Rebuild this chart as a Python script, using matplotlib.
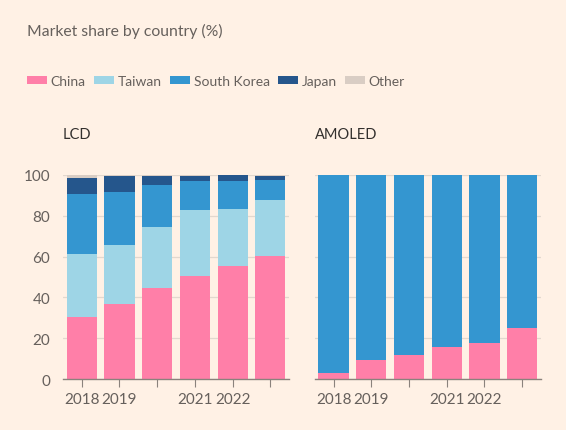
import numpy as np
import matplotlib.pyplot as plt
from matplotlib.patches import Patch

years = [2018, 2019, 2020, 2021, 2022, 2023]
year_labels = ['2018', '2019', '', '2021', '2022', '']
countries = ['China', 'Taiwan', 'South Korea', 'Japan', 'Other']

# LCD share (%)
lcd_china = [30.3, 37.0, 44.7, 50.6, 55.5, 60.4]
lcd_taiwan = [30.9, 28.6, 29.7, 32.1, 27.7, 27.4]
lcd_korea = [29.5, 26.1, 20.7, 14.5, 13.7, 9.6]
lcd_japan = [8.0, 7.5, 4.4, 2.3, 2.9, 2.1]
lcd_other = [1.3, 0.8, 0.5, 0.5, 0.2, 0.5]

# AMOLED share (%)
amo_china = [2.8, 9.6, 11.9, 15.8, 17.7, 25.2]
amo_taiwan = [0.4, 0.0, 0.0, 0.0, 0.0, 0.0]
amo_korea = [96.8, 90.4, 88.1, 84.2, 82.0, 74.8]
amo_japan = [0.0, 0.0, 0.0, 0.0, 0.3, 0.0]
amo_other = [0.0, 0.0, 0.0, 0.0, 0.0, 0.0]

colors = ['#ff7fa8', '#9ed5e6', '#3496d0', '#25568c', '#d9cdc4']
bg = '#fff1e5'
text_col = '#66605c'
grid_col = '#e2d8ce'

plt.rcParams['font.family'] = ['Lato', 'DejaVu Sans']

fig = plt.figure(figsize=(5.66, 4.31), dpi=100, facecolor=bg)

panels = [
    ('LCD', [lcd_china, lcd_taiwan, lcd_korea, lcd_japan, lcd_other], 0.111),
    ('AMOLED', [amo_china, amo_taiwan, amo_korea, amo_japan, amo_other], 0.556),
]

x = np.arange(len(years))
for title, series, left in panels:
    ax = fig.add_axes([left, 0.118, 0.4, 0.474], facecolor=bg)
    bottom = np.zeros(len(years))
    for vals, col in zip(series, colors):
        ax.bar(x, vals, width=0.8, bottom=bottom, color=col, edgecolor='none', zorder=3)
        bottom += np.array(vals)
    ax.set_xlim(-0.5, 5.5)
    ax.set_ylim(0, 100)
    ax.set_yticks(range(0, 101, 20))
    ax.grid(axis='y', color=grid_col, lw=0.9, zorder=0)
    ax.set_xticks(x)
    ax.set_xticklabels(year_labels)
    for s in ['top', 'right', 'left']:
        ax.spines[s].set_visible(False)
    ax.spines['bottom'].set_color('#8a827c')
    ax.spines['bottom'].set_linewidth(1.0)
    ax.spines['bottom'].set_zorder(4)
    ax.tick_params(axis='x', length=6, color='#8a827c', labelsize=11, labelcolor=text_col, pad=3)
    ax.tick_params(axis='y', length=0, labelsize=11, labelcolor=text_col, pad=9)
    if title == 'AMOLED':
        ax.set_yticklabels([])
    ax.text(0.0, 1.2, title, transform=ax.transAxes,
            fontsize=10.5, color='#33302e', ha='left', va='center')

fig.text(0.048, 0.928, 'Market share by country (%)', fontsize=11.3, color=text_col,
         ha='left', va='center')

handles = [Patch(facecolor=c, edgecolor='none') for c in colors]
fig.legend(handles, countries, loc='center left', bbox_to_anchor=(0.048, 0.81),
           ncol=5, frameon=False, fontsize=10, labelcolor=text_col,
           handlelength=1.45, handleheight=0.58, handletextpad=0.25, columnspacing=0.6,
           borderaxespad=0, borderpad=0)

fig.savefig('out.png', dpi=100, facecolor=bg)
